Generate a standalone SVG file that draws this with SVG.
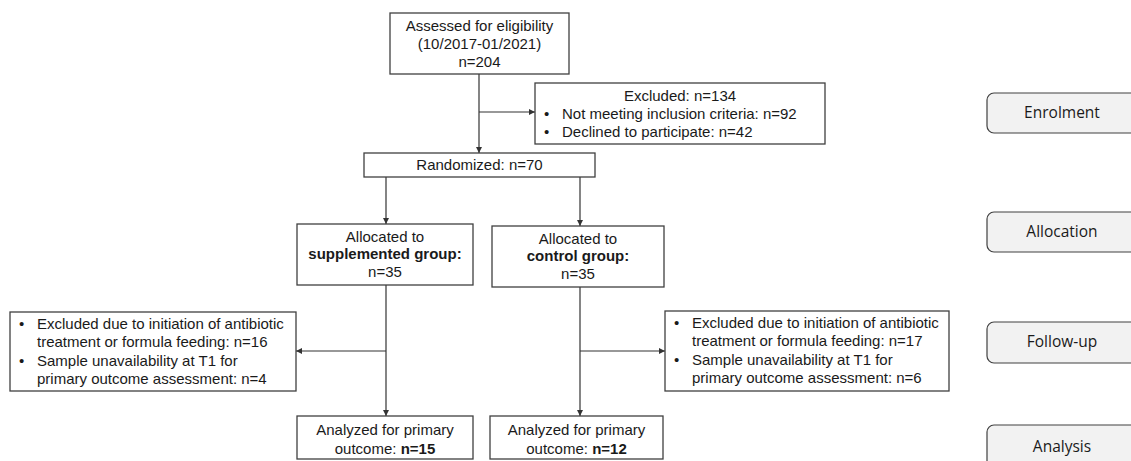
<svg xmlns="http://www.w3.org/2000/svg" width="1131" height="461" viewBox="0 0 1131 461">
<defs>
<style>
.box{fill:#fff;stroke:#404040;stroke-width:1.3}
.phase{fill:#f2f2f2;stroke:#404040;stroke-width:1.2}
.t{font-family:"Liberation Sans",Arial,sans-serif;font-size:15px;fill:#1a1a1a}
.c{text-anchor:middle}
.b{font-weight:bold}
.p{font-family:"Open Sans","Noto Sans",sans-serif;font-size:15.5px;fill:#1a1a1a;text-anchor:middle}
.ln{fill:none;stroke:#333;stroke-width:1.2}
</style>
<marker id="ah" viewBox="0 0 10 10" refX="10" refY="5" markerWidth="6" markerHeight="6" orient="auto" markerUnits="userSpaceOnUse">
<path d="M0,0 L10,5 L0,10 z" fill="#333"/>
</marker>
</defs>
<rect width="1131" height="461" fill="#fff"/>

<g id="connectors">
<path class="ln" d="M479,74 V153" marker-end="url(#ah)"/>
<path class="ln" d="M479,112 H535" marker-end="url(#ah)"/>
<path class="ln" d="M386,177 V224" marker-end="url(#ah)"/>
<path class="ln" d="M580,177 V226" marker-end="url(#ah)"/>
<path class="ln" d="M386,285 V416" marker-end="url(#ah)"/>
<path class="ln" d="M580,287 V416" marker-end="url(#ah)"/>
<path class="ln" d="M386,351 H296" marker-end="url(#ah)"/>
<path class="ln" d="M580,351 H665" marker-end="url(#ah)"/>
</g>

<g id="assessed">
<rect class="box" x="390" y="13" width="179" height="61"/>
<text class="t c" x="479.5" y="31">Assessed for eligibility</text>
<text class="t c" x="479.5" y="49">(10/2017-01/2021)</text>
<text class="t c" x="479.5" y="67">n=204</text>
</g>

<g id="excluded">
<rect class="box" x="535" y="83" width="290" height="61"/>
<text class="t c" x="680" y="101">Excluded: n=134</text>
<text class="t" x="544" y="119">•</text>
<text class="t" x="562" y="119">Not meeting inclusion criteria: n=92</text>
<text class="t" x="544" y="137">•</text>
<text class="t" x="562" y="137">Declined to participate: n=42</text>
</g>

<g id="randomized">
<rect class="box" x="364" y="153" width="231" height="24"/>
<text class="t c" x="479.5" y="170">Randomized: n=70</text>
</g>

<g id="alloc-supp">
<rect class="box" x="297" y="224" width="176" height="61"/>
<text class="t c" x="385" y="242">Allocated to</text>
<text class="t c b" x="385" y="259">supplemented group:</text>
<text class="t c" x="385" y="277">n=35</text>
</g>

<g id="alloc-ctrl">
<rect class="box" x="492" y="226" width="172" height="61"/>
<text class="t c" x="578" y="244">Allocated to</text>
<text class="t c b" x="578" y="261">control group:</text>
<text class="t c" x="578" y="279">n=35</text>
</g>

<g id="followup-supp">
<rect class="box" x="10" y="312" width="286" height="79"/>
<text class="t" x="19" y="329">•</text>
<text class="t" x="37" y="329">Excluded due to initiation of antibiotic</text>
<text class="t" x="37" y="347">treatment or formula feeding: n=16</text>
<text class="t" x="19" y="366">•</text>
<text class="t" x="37" y="366">Sample unavailability at T1 for</text>
<text class="t" x="37" y="384">primary outcome assessment: n=4</text>
</g>

<g id="followup-ctrl">
<rect class="box" x="665" y="311" width="284" height="80"/>
<text class="t" x="674" y="328">•</text>
<text class="t" x="692" y="328">Excluded due to initiation of antibiotic</text>
<text class="t" x="692" y="346">treatment or formula feeding: n=17</text>
<text class="t" x="674" y="365">•</text>
<text class="t" x="692" y="365">Sample unavailability at T1 for</text>
<text class="t" x="692" y="383">primary outcome assessment: n=6</text>
</g>

<g id="analyzed-supp">
<rect class="box" x="297" y="416" width="176" height="43"/>
<text class="t c" x="385" y="435">Analyzed for primary</text>
<text class="t c" x="385" y="454">outcome: <tspan class="b">n=15</tspan></text>
</g>

<g id="analyzed-ctrl">
<rect class="box" x="490" y="416" width="173" height="43"/>
<text class="t c" x="576.5" y="435">Analyzed for primary</text>
<text class="t c" x="576.5" y="454">outcome: <tspan class="b">n=12</tspan></text>
</g>

<g id="phase-enrolment">
<rect class="phase" x="987" y="93" width="160" height="40" rx="7"/>
<text class="p" x="1062" y="118">Enrolment</text>
</g>
<g id="phase-allocation">
<rect class="phase" x="987" y="212" width="160" height="40" rx="7"/>
<text class="p" x="1062" y="237">Allocation</text>
</g>
<g id="phase-followup">
<rect class="phase" x="987" y="322" width="160" height="41" rx="7"/>
<text class="p" x="1062" y="347">Follow-up</text>
</g>
<g id="phase-analysis">
<rect class="phase" x="987" y="425" width="160" height="50" rx="7"/>
<text class="p" x="1062" y="452">Analysis</text>
</g>
</svg>
